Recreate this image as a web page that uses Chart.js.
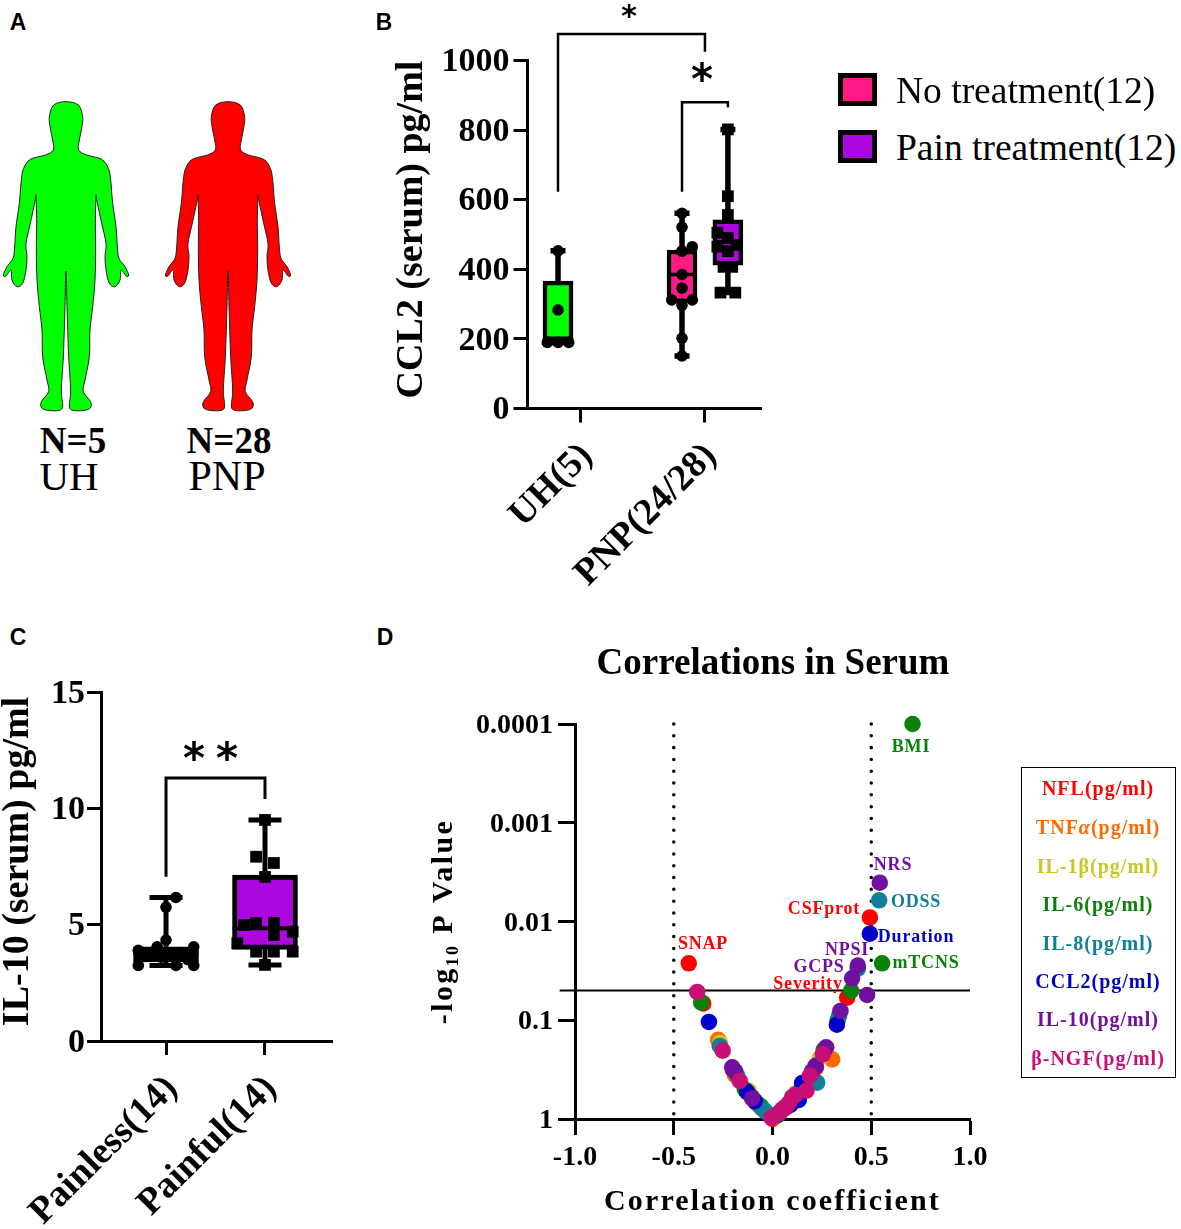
<!DOCTYPE html>
<html><head><meta charset="utf-8">
<style>
html,body{margin:0;padding:0;background:#fff;}
#page{position:relative;width:1181px;height:1229px;overflow:hidden;font-family:"Liberation Serif",serif;color:#000;}
canvas{position:absolute;}
.t{position:absolute;transform:translate(-50%,-50%);white-space:nowrap;line-height:1;}
.swatch{position:absolute;box-sizing:border-box;border:5px solid #000;}
svg{position:absolute;left:0;top:0;}
</style>
<script src="https://cdn.jsdelivr.net/npm/chart.js@4"></script>
</head><body><div id="page">
<svg id="bodies" width="300" height="420"></svg>
<canvas id="chartB" width="410" height="600" style="left:380px;top:0"></canvas>
<canvas id="chartC" width="362" height="569" style="left:-12px;top:660px"></canvas>
<canvas id="chartD" width="706" height="590" style="left:420px;top:630px"></canvas>
</div>
<script>
// ---------- Panel B data ----------
const bTickLabels = ['UH(5)', 'PNP(24/28)'];
const bBoxX = [-0.185, 0.815, 1.185];
const bQ1 = [195, 304, 412];
const bQ3 = [366, 455, 542];
const bMedian = [195, 385, 479];
const bMin = [190, 151, 333];
const bMax = [453, 561, 802];
const bBoxColors = ['#00ff00', '#ff1a85', '#ad06e0'];
const uhX = [-0.271, -0.185, -0.099, -0.185, -0.185];
const uhY = [190, 190, 190, 283, 453];
const noTreatX = [0.815, 0.815, 0.898, 0.815, 0.815, 0.815, 0.815, 0.898, 0.732, 0.815, 0.815, 0.815];
const noTreatY = [561, 521, 465, 452, 452, 385, 346, 312, 312, 297, 202, 151];
const painTreatX = [1.185, 1.185, 1.185, 1.10, 1.185, 1.255, 1.10, 1.185, 1.15, 1.22, 1.125, 1.245];
const painTreatY = [802, 610, 556, 505, 490, 470, 465, 452, 407, 407, 333, 333];
const bBracketA = [[-0.185, 623], [-0.185, 1076], [1.0, 1076], [1.0, 1025]];
const bBracketB = [[0.815, 623], [0.815, 880], [1.185, 880], [1.185, 866]];

// ---------- Panel C data ----------
const cTickLabels = ['Painless(14)', 'Painful(14)'];
const cBoxX = [0, 1];
const cQ1 = [3.4, 3.94];
const cQ3 = [4.05, 7.13];
const cMedian = [3.75, 4.85];
const cMin = [3.25, 3.27];
const cMax = [6.17, 9.5];
const cBoxColors = ['#000000', '#ad06e0'];
const painlessX = [0.10, 0, 0, -0.09, 0.28, -0.28, -0.15, 0.15, 0.05, -0.05, 0.22, -0.28, 0.10, 0.28];
const painlessY = [6.17, 5.75, 4.34, 4.05, 4.05, 3.9, 3.8, 3.8, 3.7, 3.6, 3.5, 3.25, 3.25, 3.25];
const painfulX = [1, 0.91, 1.09, 1, 0.79, 0.91, 1.09, 1.09, 1.28, 0.72, 0.91, 1.09, 1.28, 1];
const painfulY = [9.5, 7.92, 7.65, 7.05, 4.98, 5.07, 5.08, 4.55, 4.7, 4.2, 3.84, 3.84, 3.84, 3.27];
const cBracket = [[0, 7.06], [0, 11.3], [1, 11.3], [1, 10.4]];

// ---------- Panel D data ----------
const dTicksY = [1, 0.1, 0.01, 0.001, 0.0001];
const dTicksX = [-1, -0.5, 0, 0.5, 1];
const dSeriesNames = ['NFL(pg/ml)', 'TNFα(pg/ml)', 'IL-1β(pg/ml)', 'IL-6(pg/ml)', 'IL-8(pg/ml)', 'CCL2(pg/ml)', 'IL-10(pg/ml)', 'β-NGF(pg/ml)'];
const dSeriesColors = ['#ff0000', '#ff6a00', '#c8c820', '#0a820a', '#0f8098', '#0000c8', '#7010a0', '#c80f78'];
const nflR = [-0.424, -0.351, 0.493, 0.378, -0.10, 0.05, 0.22, 0.12, -0.20, 0.0];
const nflP = [0.0265, 0.0675, 0.0091, 0.059, 0.62, 0.80, 0.30, 0.55, 0.32, 1.0];
const tnfR = [-0.275, 0.302, 0.26, -0.19, 0.12, -0.06, 0.07, 0.19, 0.02];
const tnfP = [0.158, 0.249, 0.20, 0.36, 0.58, 0.76, 0.74, 0.38, 0.93];
const il1R = [-0.265, -0.12, 0.24, 0.13, -0.05, 0.08, 0.01];
const il1P = [0.17, 0.52, 0.24, 0.53, 0.78, 0.70, 0.95];
const il6R = [0.709, 0.555, -0.361, 0.398, 0.33, 0.26, -0.08, -0.14, 0.10, 0.04, -0.105, -0.06, 0.025];
const il6P = [0.0001, 0.0265, 0.066, 0.05, 0.10, 0.20, 0.69, 0.50, 0.62, 0.85, 0.60, 0.74, 0.92];
const il8R = [0.54, 0.432, -0.267, 0.337, 0.226, -0.052, -0.18, 0.06, 0.13, -0.035, -0.19];
const il8P = [0.0061, 0.03, 0.182, 0.09, 0.428, 0.78, 0.36, 0.78, 0.55, 0.84, 0.33];
const ccl2R = [0.493, -0.322, 0.326, -0.128, 0.15, 0.133, 0.09, -0.09, 0.03];
const ccl2P = [0.0133, 0.104, 0.111, 0.533, 0.432, 0.642, 0.72, 0.66, 0.88];
const il10R = [0.543, 0.432, 0.403, 0.479, 0.344, 0.272, 0.218, -0.204, -0.19, -0.103, 0.20, 0.07];
const il10P = [0.00405, 0.028, 0.0376, 0.0555, 0.0805, 0.188, 0.29, 0.30, 0.33, 0.618, 0.33, 0.76];
const ngfR = [-0.381, -0.252, -0.166, -0.005, 0.255, 0.189, 0.172, 0.116, 0.083, 0.057, 0.10, 0.03];
const ngfP = [0.0517, 0.203, 0.41, 0.97, 0.221, 0.365, 0.517, 0.571, 0.693, 0.78, 0.60, 0.88];
const dSeriesR = [nflR, tnfR, il1R, il6R, il8R, ccl2R, il10R, ngfR];
const dSeriesP = [nflP, tnfP, il1P, il6P, il8P, ccl2P, il10P, ngfP];
const dThresholdP = 0.05;
const dThresholdR = [-0.5, 0.5];

// ---------- helpers ----------
const SERIF = '"Liberation Serif", serif';
Chart.defaults.color = '#000';
Chart.defaults.animation = false;
const page = document.getElementById('page');
function addText(str, cx, cy, css) {
  const d = document.createElement('div');
  d.className = 't'; d.textContent = str;
  d.style.left = cx + 'px'; d.style.top = cy + 'px';
  Object.assign(d.style, css || {});
  page.appendChild(d);
  return d;
}
function pairs(xs, ys) { return xs.map((x, i) => ({ x, y: ys[i] })); }
function path(list) { return list.map(p => ({ x: p[0], y: p[1] })); }
function segments(list) {
  const out = [];
  list.forEach(s => { out.push({ x: s[0], y: s[1] }, { x: s[2], y: s[3] }, { x: s[0], y: null }); });
  return out;
}
function lineSet(data, width, order) {
  return { type: 'line', data, borderColor: '#000', backgroundColor: '#000', borderWidth: width, pointRadius: 0,
    fill: false, tension: 0, clip: false, order, borderCapStyle: 'butt', borderJoinStyle: 'miter' };
}
function pointSet(data, style, radius, order) {
  return { type: 'scatter', data, pointStyle: style, pointRadius: radius, pointBackgroundColor: '#000',
    pointBorderColor: '#000', pointBorderWidth: 0, clip: false, order };
}
function boxPlotSets(xs, q1, q3, med, lo, hi, colors, thickPx, unit, capHalf, border, whisk) {
  const whiskers = [], medians = [], caps = [];
  const half = thickPx / unit / 2;
  xs.forEach((x, i) => {
    whiskers.push([x, q3[i], x, hi[i]], [x, q1[i], x, lo[i]]);
    caps.push([x - capHalf, hi[i], x + capHalf, hi[i]], [x - capHalf, lo[i], x + capHalf, lo[i]]);
    medians.push([x - half, med[i], x + half, med[i]]);
  });
  return [
    { type: 'bar', data: xs.map((x, i) => ({ x, y: [q1[i], q3[i]] })), backgroundColor: colors, borderColor: '#000',
      borderWidth: border, borderSkipped: false, barThickness: thickPx, order: 50 },
    lineSet(segments(whiskers), whisk, 40),
    lineSet(segments(caps), whisk, 39),
    lineSet(segments(medians), border - 1, 38)
  ];
}
function axisBase(fontSize) {
  return {
    grid: { drawOnChartArea: false, drawTicks: true, offset: false, tickColor: '#000', tickWidth: 3, tickLength: 14 },
    border: { display: true, color: '#000', width: 3 },
    ticks: { color: '#000', font: { family: SERIF, weight: 'bold', size: fontSize } }
  };
}
function commonOptions(pad) {
  return { responsive: false, animation: false, layout: { padding: pad },
    plugins: { legend: { display: false }, tooltip: { enabled: false }, title: { display: false } } };
}
function tweakTitle(scale, spacing, dy) {
  if (scale._tweaked) return;
  scale._tweaked = true;
  const orig = scale.drawTitle;
  scale.drawTitle = function () {
    const c = this.ctx;
    c.save();
    c.letterSpacing = spacing;
    c.translate(0, dy);
    orig.call(this);
    c.restore();
  };
}
function fixedX(height) {
  return s => { s.height = height; s.paddingLeft = 0; s.paddingRight = 0; };
}

// ---------- Chart B ----------
const optB = commonOptions({ top: 60.5, right: 29, left: 0, bottom: 0 });
optB.scales = {
  x: Object.assign(axisBase(37.5), { type: 'linear', offset: false, min: -0.431, max: 1.452,
    afterFit: fixedX(191.5), afterBuildTicks: s => { s.ticks = [{ value: 0 }, { value: 1 }]; } }),
  y: Object.assign(axisBase(34), { type: 'linear', min: 0, max: 1000,
    afterFit: s => { s.width = 147.5; tweakTitle(s, '0px', -5); },
    title: { display: true, text: 'CCL2 (serum) pg/ml', font: { family: SERIF, weight: 'bold', size: 38 }, padding: { top: 9, bottom: 0 }, color: '#000' } })
};
Object.assign(optB.scales.x.ticks, { minRotation: 45, maxRotation: 45, padding: 12, labelOffset: 6, autoSkip: false, callback: v => bTickLabels[v] });
Object.assign(optB.scales.y.ticks, { stepSize: 200, padding: 4, labelOffset: 2, callback: v => String(v) });
new Chart(document.getElementById('chartB'), {
  type: 'bar',
  data: { datasets: [
    ...boxPlotSets(bBoxX, bQ1, bQ3, bMedian, bMin, bMax, bBoxColors, 30, 124, 7.5 / 124, 4.5, 5.5),
    pointSet(pairs(uhX, uhY), 'circle', 5.8, 10),
    pointSet(pairs(noTreatX, noTreatY), 'circle', 5.8, 9),
    pointSet(pairs(painTreatX, painTreatY), 'rect', 8.3, 8),
    lineSet(path(bBracketA), 2.5, 5),
    lineSet(path(bBracketB), 2.5, 4)
  ] },
  options: optB
});

// ---------- Chart C ----------
const optC = commonOptions({ top: 32, right: 18, left: 0, bottom: 0 });
optC.scales = {
  x: Object.assign(axisBase(37.5), { type: 'linear', offset: false, min: -0.657, max: 1.677,
    afterFit: fixedX(188), afterBuildTicks: s => { s.ticks = [{ value: 0 }, { value: 1 }]; } }),
  y: Object.assign(axisBase(34), { type: 'linear', min: 0, max: 15,
    afterFit: s => { s.width = 113; tweakTitle(s, '0px', -5); },
    title: { display: true, text: 'IL-10 (serum) pg/ml', font: { family: SERIF, weight: 'bold', size: 38 }, padding: { top: 7, bottom: 0 }, color: '#000' } })
};
Object.assign(optC.scales.x.ticks, { minRotation: 45, maxRotation: 45, padding: 12, labelOffset: 6, autoSkip: false, callback: v => cTickLabels[v] });
Object.assign(optC.scales.y.ticks, { stepSize: 5, padding: 2, labelOffset: 2 });
new Chart(document.getElementById('chartC'), {
  type: 'bar',
  data: { datasets: [
    ...boxPlotSets(cBoxX, cQ1, cQ3, cMedian, cMin, cMax, cBoxColors, 65, 99, 16.5 / 99, 5, 5),
    pointSet(pairs(painlessX, painlessY), 'circle', 5.8, 10),
    pointSet(pairs(painfulX, painfulY), 'rect', 8.3, 9),
    lineSet(path(cBracket), 3, 5)
  ] },
  options: optC
});

// ---------- Chart D ----------
const optD = commonOptions({ top: 0, right: 0, left: 0, bottom: 0 });
optD.plugins.title = { display: true, text: 'Correlations in Serum', color: '#000',
  font: { family: SERIF, weight: 'bold', size: 37 }, padding: { top: 12, bottom: 37.6 } };
optD.scales = {
  x: Object.assign(axisBase(28), { type: 'linear', offset: false, min: -1, max: 1,
    afterFit: s => { s.height = 101; tweakTitle(s, '2.1px', 0); },
    afterBuildTicks: s => { s.ticks = dTicksX.map(value => ({ value })); },
    title: { display: true, text: 'Correlation coefficient', font: { family: SERIF, weight: 'bold', size: 30 }, padding: { top: 0, bottom: 0 }, color: '#000' } }),
  y: Object.assign(axisBase(28), { type: 'logarithmic', reverse: true, min: 0.0001, max: 1,
    afterFit: s => { s.width = 155; tweakTitle(s, '2.4px', 0); },
    afterBuildTicks: s => { s.ticks = dTicksY.map(value => ({ value })); },
    title: { display: true, text: '-log₁₀ P Value', font: { family: SERIF, weight: 'bold', size: 30 }, padding: { top: 6, bottom: 0 }, color: '#000' } }),
  spacer: { type: 'linear', position: 'right', display: true, grid: { display: false }, border: { display: false },
    ticks: { display: false }, afterFit: s => { s.width = 156; } }
};
optD.scales.x.grid.tickLength = 16;
optD.scales.y.grid.tickLength = 17;
Object.assign(optD.scales.x.ticks, { padding: 6, autoSkip: false, maxRotation: 0, callback: v => v.toFixed(1) });
Object.assign(optD.scales.y.ticks, { padding: 5, labelOffset: 2, autoSkip: false, callback: v => String(v) });
const dDatasets = dSeriesR.map((rs, i) => ({
  type: 'scatter', label: dSeriesNames[i], data: pairs(rs, dSeriesP[i]), pointRadius: 8.3, pointBorderWidth: 0,
  pointBackgroundColor: dSeriesColors[i], clip: false, order: 10 - i
}));
const dottedLine = r => Object.assign(lineSet([{ x: r, y: 0.0001 }, { x: r, y: 1 }], 3.5, 30),
  { borderDash: [0.01, 11.8], borderCapStyle: 'round' });
dDatasets.push(dottedLine(dThresholdR[0]), dottedLine(dThresholdR[1]));
dDatasets.push(lineSet([{ x: -1.078, y: dThresholdP }, { x: 1, y: dThresholdP }], 2, 29));
new Chart(document.getElementById('chartD'), { type: 'scatter', data: { datasets: dDatasets }, options: optD });

// ---------- Panel A silhouettes ----------
const bodyHalfX = [0,37,50,47,40,38,62,107,127,134,140,150,154,159,177,188,180,165,162,147,130,120,117,120,107,92,90,88,89,87,80,72,70,57,52,74,72,47,17,10,14,8,3,1];
const bodyHalfY = [35,45,80,115,150,180,195,208,235,270,340,410,470,505,530,555,558,540,570,590,580,540,500,460,400,330,320,400,480,570,650,720,800,870,905,935,955,962,960,945,900,800,650,555];
function bodyPath(cx) {
  const scale = 1 / 3, oy = 90;
  const right = bodyHalfX.map((d, i) => [cx + d * scale, oy + bodyHalfY[i] * scale]);
  const left = bodyHalfX.map((d, i) => [cx - d * scale, oy + bodyHalfY[i] * scale]).reverse();
  const pts = right.concat(left.slice(0, -1));
  let d = 'M' + pts[0][0] + ' ' + pts[0][1];
  for (let i = 0; i < pts.length; i++) {
    const p0 = pts[(i - 1 + pts.length) % pts.length], p1 = pts[i], p2 = pts[(i + 1) % pts.length], p3 = pts[(i + 2) % pts.length];
    d += ' C' + (p1[0] + (p2[0] - p0[0]) / 6) + ' ' + (p1[1] + (p2[1] - p0[1]) / 6) + ' ' +
      (p2[0] - (p3[0] - p1[0]) / 6) + ' ' + (p2[1] - (p3[1] - p1[1]) / 6) + ' ' + p2[0] + ' ' + p2[1];
  }
  return d + 'Z';
}
[[66, '#00ff00'], [228, '#ff0000']].forEach(b => {
  const p = document.createElementNS('http://www.w3.org/2000/svg', 'path');
  p.setAttribute('d', bodyPath(b[0])); p.setAttribute('fill', b[1]);
  p.setAttribute('stroke', '#222'); p.setAttribute('stroke-width', '1');
  document.getElementById('bodies').appendChild(p);
});

// ---------- Text annotations ----------
const sans = { fontFamily: '"Liberation Sans", sans-serif', fontWeight: 'bold', fontSize: '23px' };
addText('A', 18, 22, sans); addText('B', 384, 22, sans); addText('C', 18, 637, sans); addText('D', 385, 637, sans);
addText('N=5', 73, 440, { fontWeight: 'bold', fontSize: '37px' });
addText('N=28', 229, 440, { fontWeight: 'bold', fontSize: '37px' });
addText('UH', 69, 476, { fontSize: '41px' });
addText('PNP', 227, 476, { fontSize: '42px' });
const star = { fontFamily: '"DejaVu Sans", sans-serif', fontWeight: 'bold' };
addText('*', 629, 16, Object.assign({ fontSize: '30px' }, star));
addText('*', 702, 80, Object.assign({ fontSize: '42px' }, star));
addText('*', 194, 759, Object.assign({ fontSize: '42px' }, star));
addText('*', 227, 759, Object.assign({ fontSize: '42px' }, star));

// legend B
[['No treatment(12)', bBoxColors[1], 90], ['Pain treatment(12)', bBoxColors[2], 147]].forEach(l => {
  const s = document.createElement('div'); s.className = 'swatch';
  s.style.cssText = 'left:838px;top:' + (l[2] - 17) + 'px;width:39px;height:33px;background:' + l[1];
  page.appendChild(s);
  const d = document.createElement('div'); d.className = 't'; d.textContent = l[0];
  d.style.cssText = 'left:896px;top:' + (l[2] + 0.5) + 'px;transform:translate(0,-50%);font-size:37.5px';
  page.appendChild(d);
});

// legend D
const lb = document.createElement('div');
lb.style.cssText = 'position:absolute;left:1021px;top:767px;width:155px;height:311px;border:1px solid #000;box-sizing:border-box;';
page.appendChild(lb);
const legendY = [788, 827, 866, 904, 943, 981, 1019, 1058];
dSeriesNames.forEach((n, i) => {
  const el = addText(n, 1098, legendY[i], { fontWeight: 'bold', fontSize: '20px', letterSpacing: '1px', color: dSeriesColors[i] });
  el.innerHTML = el.textContent.replace('α', '<i>α</i>');
});

// point labels of panel D
const pointLabels = [
  ['BMI', 911, 746, 3], ['NRS', 893, 864, 6], ['ODSS', 916, 901, 4], ['CSFprot', 824, 908, 0], ['Duration', 916, 936, 5],
  ['mTCNS', 926, 962, 3], ['SNAP', 703, 943, 0], ['NPSI', 847, 949, 6], ['GCPS', 819, 966, 6], ['Severity', 808, 983, 0]
];
pointLabels.forEach(l => addText(l[0], l[1], l[2], { fontWeight: 'bold', fontSize: '18px', letterSpacing: '0.8px', color: dSeriesColors[l[3]] }));
</script>
</body></html>
